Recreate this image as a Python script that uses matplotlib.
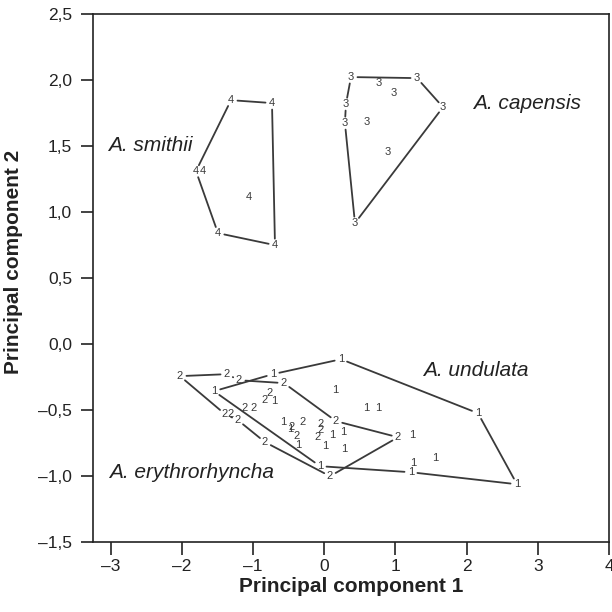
# PCA scatter of Agapornis-like groups: each point drawn as its group number,
# with an outline joining the outer points of each group.

import numpy as np
import matplotlib.pyplot as plt
from matplotlib.ticker import FuncFormatter, MultipleLocator

plt.rcParams['font.family'] = ['Liberation Sans', 'DejaVu Sans']

# group 1 - A. undulata
pc1_g1 = [-1.550, -0.721, 0.235, 0.150, 0.586, 0.755, 2.160, 2.708, 1.218, 1.246, 1.555,
          1.232, -0.060, -0.580, -0.482, -0.370, 0.108, 0.010, 0.263, 0.277, -0.707]
pc2_g1 = [-0.356, -0.227, -0.114, -0.348, -0.485, -0.485, -0.523, -1.061, -0.970, -0.902, -0.864,
          -0.689, -0.924, -0.591, -0.644, -0.765, -0.689, -0.773, -0.667, -0.795, -0.432]
outline_g1 = [0, 1, 2, 6, 7, 8, 12]

# group 2 - A. erythrorhyncha
pc1_g2 = [-2.028, -1.367, -1.199, -0.566, -0.763, -0.833, -1.114, -0.988, -1.395, -1.311, -1.213,
          -0.833, 0.080, 1.036, 0.164, -0.454, -0.384, -0.299, -0.046, -0.046, -0.089]
pc2_g2 = [-0.242, -0.227, -0.273, -0.295, -0.371, -0.424, -0.485, -0.485, -0.530, -0.530, -0.576,
          -0.742, -1.000, -0.705, -0.583, -0.629, -0.697, -0.591, -0.606, -0.652, -0.705]
outline_g2 = [0, 1, 2, 3, 14, 13, 12, 11, 10, 8]

# group 3 - A. capensis
pc1_g3 = [0.375, 0.769, 1.303, 0.979, 1.668, 0.304, 0.290, 0.600, 0.895, 0.431]
pc2_g3 = [2.023, 1.977, 2.015, 1.902, 1.795, 1.818, 1.674, 1.682, 1.455, 0.917]
outline_g3 = [0, 2, 4, 9, 6, 5]

# group 4 - A. smithii
pc1_g4 = [-1.311, -0.735, -0.693, -1.494, -1.803, -1.704, -1.058]
pc2_g4 = [1.848, 1.826, 0.750, 0.841, 1.311, 1.311, 1.114]
outline_g4 = [0, 1, 2, 3, 4]

groups = [
    ('1', pc1_g1, pc2_g1, outline_g1),
    ('2', pc1_g2, pc2_g2, outline_g2),
    ('3', pc1_g3, pc2_g3, outline_g3),
    ('4', pc1_g4, pc2_g4, outline_g4),
]

species = ['A. undulata', 'A. erythrorhyncha', 'A. capensis', 'A. smithii']
species_pos = [(1.387, -0.197), (-3.030, -0.970), (2.090, 1.826), (-3.040, 1.508)]

ink = '#3a3a3a'

fig = plt.figure(figsize=(6.12, 6.12), dpi=100)
ax = fig.add_axes([0.152, 0.114, 0.843, 0.863])
ax.set_xlim(-3.25, 4.0)
ax.set_ylim(-1.5, 2.5)


def shortened(x0, y0, x1, y1, gap=6.5):
    # pull both ends of a segment back by gap pixels so it stops short of the digits
    p0 = ax.transData.transform((x0, y0))
    p1 = ax.transData.transform((x1, y1))
    d = p1 - p0
    n = np.hypot(*d)
    if n <= 2 * gap:
        return None
    u = d / n
    inv = ax.transData.inverted()
    return inv.transform(p0 + u * gap), inv.transform(p1 - u * gap)


for lab, xs, ys, outline in groups:
    for k in range(len(outline)):
        i = outline[k]
        j = outline[(k + 1) % len(outline)]
        seg = shortened(xs[i], ys[i], xs[j], ys[j])
        if seg is None:
            continue
        a, b = seg
        ax.plot([a[0], b[0]], [a[1], b[1]], color=ink, lw=1.3, solid_capstyle='round')
    for x, y in zip(xs, ys):
        ax.text(x, y, lab, ha='center', va='center', fontsize=8, color=ink)

for name, (x, y) in zip(species, species_pos):
    ax.text(x, y, name, ha='left', va='center', fontsize=15, style='italic', color='#222222')

# comma decimals and dash-style minus like the printed figure
ax.xaxis.set_major_locator(MultipleLocator(1))
ax.yaxis.set_major_locator(MultipleLocator(0.5))
ax.xaxis.set_major_formatter(FuncFormatter(lambda v, p: ('%d' % round(v)).replace('-', '\u2013')))
ax.yaxis.set_major_formatter(FuncFormatter(lambda v, p: ('%.1f' % v).replace('.', ',').replace('-', '\u2013')))

ax.tick_params(direction='out', length=9, width=1.2, colors='#222222', labelsize=12.5)
ax.tick_params(axis='y', pad=6)
ax.tick_params(axis='x', pad=3)
for s in ax.spines.values():
    s.set_linewidth(1.2)
    s.set_color('#222222')

ax.set_xlabel('Principal component 1', fontsize=15, fontweight='bold', color='#222222')
ax.set_ylabel('Principal component 2', fontsize=15, fontweight='bold', color='#222222')
ax.xaxis.labelpad = 2
ax.yaxis.set_label_coords(-0.135, 0.53)

fig.savefig('out.png', dpi=100)
